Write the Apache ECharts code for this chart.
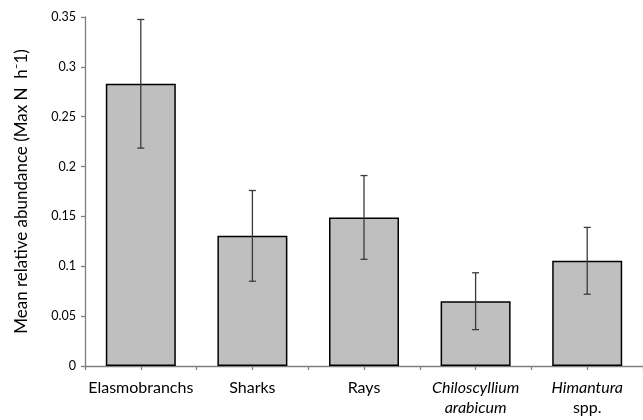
<!DOCTYPE html>
<html>
<head>
<meta charset="utf-8">
<script src="https://cdn.jsdelivr.net/npm/echarts@6/dist/echarts.min.js"></script>
<style>
html,body{margin:0;padding:0;background:#fff;}
#chart{width:643px;height:420px;}
</style>
</head>
<body>
<div id="chart"></div>
<script>
const categories = ['Elasmobranchs', 'Sharks', 'Rays', 'Chiloscyllium arabicum', 'Himantura spp.'];
const tickLabels = ['Elasmobranchs', 'Sharks', 'Rays', '{i|Chiloscyllium}\n{i|arabicum}', '{i|Himantura}\n{n|spp.}'];
const meanValues = [0.283, 0.1305, 0.149, 0.065, 0.1055];
const errorValues = [0.0645, 0.0455, 0.042, 0.0285, 0.0335];
const yTicks = [0, 0.05, 0.1, 0.15, 0.2, 0.25, 0.3, 0.35];

const FONT = 'Lato, "Open Sans", sans-serif';
const chart = echarts.init(document.getElementById('chart'));

const errData = categories.map((c, i) => [i, meanValues[i] - errorValues[i], meanValues[i] + errorValues[i]]);

chart.setOption({
  animation: false,
  backgroundColor: '#fff',
  grid: { left: 85, top: 17, bottom: 54, right: -7 },
  xAxis: [
    {
      type: 'category',
      data: categories,
      position: 'bottom',
      axisLine: { lineStyle: { color: '#7f7f7f', width: 1.3 } },
      axisTick: { show: true, interval: 0, length: 4, alignWithLabel: false, lineStyle: { color: '#7f7f7f', width: 1.3 } },
      axisLabel: {
        interval: 0,
        margin: 12,
        fontFamily: FONT,
        fontSize: 16,
        color: '#000',
        lineHeight: 20,
        formatter: (v, i) => tickLabels[i],
        rich: {
          i: { fontFamily: FONT, fontSize: 16, fontStyle: 'italic', color: '#000', lineHeight: 20 },
          n: { fontFamily: FONT, fontSize: 16, color: '#000', lineHeight: 20 }
        }
      }
    },
    {
      type: 'category',
      data: categories,
      position: 'bottom',
      axisLine: { show: false },
      axisTick: { show: true, interval: 0, length: 4, alignWithLabel: true, lineStyle: { color: '#7f7f7f', width: 1.3 } },
      axisLabel: { show: false }
    }
  ],
  yAxis: {
    type: 'value',
    min: 0,
    max: 0.35,
    interval: 0.05,
    splitLine: { show: false },
    axisLine: { show: true, lineStyle: { color: '#7f7f7f', width: 1.3 } },
    axisTick: { show: true, length: 4, lineStyle: { color: '#7f7f7f', width: 1.3 } },
    axisLabel: {
      margin: 9,
      fontFamily: FONT,
      fontSize: 12.5,
      color: '#000',
      formatter: v => {
        const r = Math.round(v * 100) / 100;
        return yTicks.indexOf(r) >= 0 ? String(r) : '';
      }
    },
    name: 'Mean relative abundance (Max N  h\u207B1)',
    nameLocation: 'middle',
    nameGap: 55,
    nameTextStyle: { fontFamily: FONT, fontSize: 17, color: '#000' }
  },
  series: [
    {
      type: 'bar',
      data: meanValues,
      barWidth: 70,
      itemStyle: { color: '#bfbfbf', borderColor: '#000', borderWidth: 1.5 }
    },
    {
      type: 'custom',
      data: errData,
      z: 10,
      renderItem: (params, api) => {
        const x = api.value(0);
        const lo = api.coord([x, api.value(1)]);
        const hi = api.coord([x, api.value(2)]);
        const cap = 3.5;
        const style = { stroke: '#3a3a3a', lineWidth: 1.3 };
        return {
          type: 'group',
          children: [
            { type: 'line', shape: { x1: lo[0], y1: lo[1], x2: hi[0], y2: hi[1] }, style },
            { type: 'line', shape: { x1: lo[0] - cap, y1: lo[1], x2: lo[0] + cap, y2: lo[1] }, style },
            { type: 'line', shape: { x1: hi[0] - cap, y1: hi[1], x2: hi[0] + cap, y2: hi[1] }, style }
          ]
        };
      }
    }
  ]
});
</script>
</body>
</html>
